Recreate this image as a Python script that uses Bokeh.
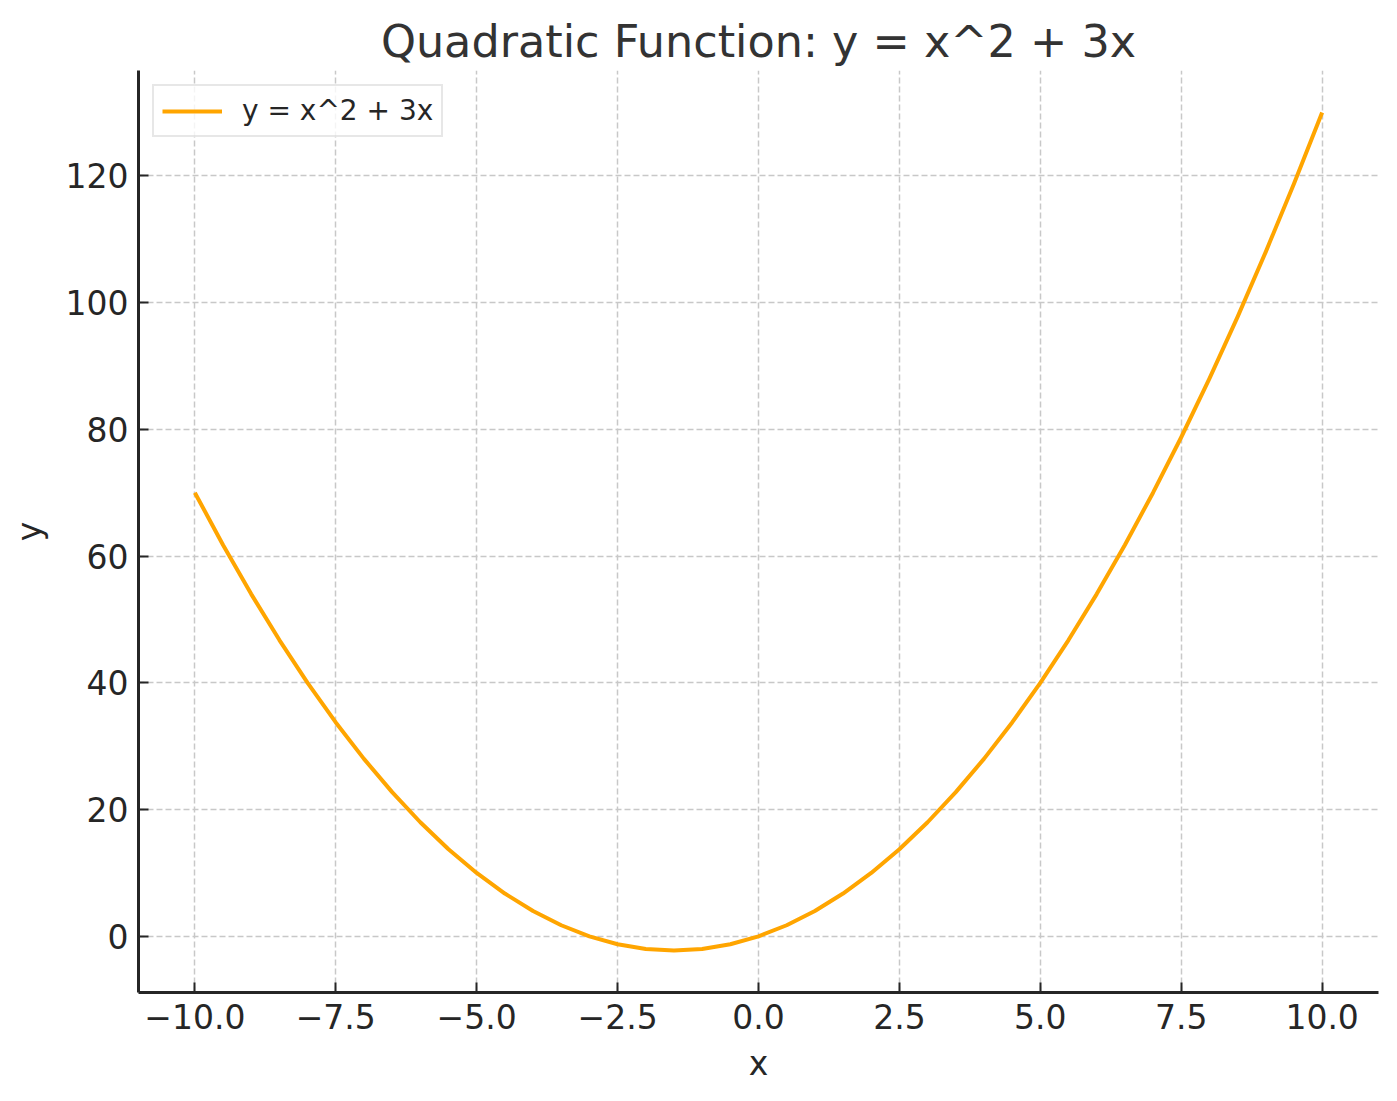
from bokeh.plotting import figure
from bokeh.models import ColumnDataSource, FixedTicker, CustomJSTickFormatter, Range1d, Legend, LegendItem
from bokeh.embed import file_html
from bokeh.resources import INLINE

# values
x_vals = [-10, -9.5, -9, -8.5, -8, -7.5, -7, -6.5, -6, -5.5, -5, -4.5, -4, -3.5, -3, -2.5, -2, -1.5, -1, -0.5,
          0, 0.5, 1, 1.5, 2, 2.5, 3, 3.5, 4, 4.5, 5, 5.5, 6, 6.5, 7, 7.5, 8, 8.5, 9, 9.5, 10]
y_vals = [70, 61.75, 54, 46.75, 40, 33.75, 28, 22.75, 18, 13.75, 10, 6.75, 4, 1.75, 0, -1.25, -2, -2.25, -2, -1.25,
          0, 1.75, 4, 6.75, 10, 13.75, 18, 22.75, 28, 33.75, 40, 46.75, 54, 61.75, 70, 78.75, 88, 97.75, 108, 118.75, 130]
x_ticks = [-10.0, -7.5, -5.0, -2.5, 0.0, 2.5, 5.0, 7.5, 10.0]
y_ticks = [0, 20, 40, 60, 80, 100, 120]
title_text = "Quadratic Function: y = x^2 + 3x"
legend_label = "y = x^2 + 3x"

FONT = "DejaVu Sans"
TXT = "#262626"

p = figure(width=1381, height=1085, output_backend="svg", toolbar_location=None,
           x_range=Range1d(-11, 11), y_range=Range1d(-8.8625, 136.6125),
           min_border_left=138, min_border_right=3, min_border_top=70, min_border_bottom=91)
p.outline_line_color = None
p.background_fill_color = "white"

p.title.text = title_text
p.title.align = "center"
p.title.text_font = FONT
p.title.text_font_size = "44.5px"
p.title.text_font_style = "normal"
p.title.text_color = "#333333"
p.title.standoff = 8

src = ColumnDataSource(dict(x=x_vals, y=y_vals))
r = p.line("x", "y", source=src, line_color="#FFA500", line_width=4, line_join="round")

for ax in (p.xaxis[0], p.yaxis[0]):
    ax.axis_line_color = TXT
    ax.axis_line_width = 3
    ax.major_tick_in = 10
    ax.major_tick_out = 0
    ax.major_tick_line_width = 2
    ax.major_tick_line_color = TXT
    ax.minor_tick_line_color = None
    ax.major_label_text_font = FONT
    ax.major_label_text_font_size = "33px"
    ax.major_label_text_color = TXT
    ax.axis_label_text_font = FONT
    ax.axis_label_text_font_size = "33px"
    ax.axis_label_text_font_style = "normal"
    ax.axis_label_text_color = TXT

p.xaxis.ticker = FixedTicker(ticks=x_ticks)
p.yaxis.ticker = FixedTicker(ticks=y_ticks)
p.xaxis.formatter = CustomJSTickFormatter(code="return (tick < 0 ? '\u2212' : '') + Math.abs(tick).toFixed(1);")
p.yaxis.formatter = CustomJSTickFormatter(code="return (tick < 0 ? '\u2212' : '') + Math.abs(tick).toFixed(0);")
p.xaxis.axis_label = "x"
p.yaxis.axis_label = "y"
p.xaxis.major_label_standoff = 11
p.yaxis.major_label_standoff = 10
p.xaxis.axis_label_standoff = 12
p.yaxis.axis_label_standoff = 14

for g in (p.xgrid[0], p.ygrid[0]):
    g.grid_line_color = "#c8c8c8"
    g.grid_line_width = 1.5
    g.grid_line_dash = "6 3"
p.xgrid.ticker = FixedTicker(ticks=x_ticks)
p.ygrid.ticker = FixedTicker(ticks=y_ticks)

legend = Legend(items=[LegendItem(label=legend_label, renderers=[r])], location="top_left")
legend.margin = 14
legend.padding = 8
legend.label_text_font = FONT
legend.label_text_font_size = "28px"
legend.label_text_color = TXT
legend.glyph_width = 60
legend.glyph_height = 32
legend.label_standoff = 20
legend.border_line_color = "#d0d0d0"
legend.border_line_width = 2
legend.background_fill_alpha = 0.8
p.add_layout(legend)

open("out.html", "w").write(file_html(p, INLINE))
